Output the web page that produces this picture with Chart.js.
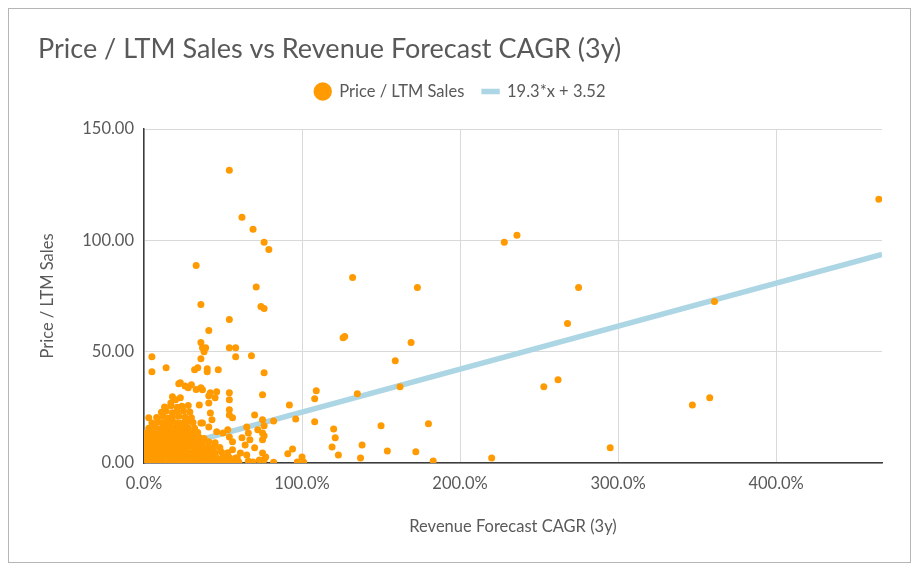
<!DOCTYPE html>
<html><head><meta charset="utf-8">
<script src="https://cdn.jsdelivr.net/npm/chart.js@4.4.0/dist/chart.umd.min.js"></script>
<style>html,body{margin:0;padding:0;background:#fff;}</style>
</head><body>
<canvas id="c" width="919" height="571"></canvas>
<script>
// ---- DATA (x = revenue forecast CAGR as fraction, y = Price / LTM Sales) ----
// Dense core of the cloud
const cagrCore = [
 0.00,0.03,0.06,0.09,0.12,0.15,0.18,0.21,0.24,0.27,0.30,0.33,0.36,0.39,0.42,0.45,0.48,0.52,0.56,0.60,
 0.01,0.04,0.07,0.10,0.13,0.16,0.19,0.22,0.25,0.28,0.31,0.34,0.37,0.40,0.43,0.46,0.50,0.54,0.58,
 0.00,0.03,0.06,0.09,0.12,0.15,0.18,0.21,0.24,0.27,0.30,0.33,0.36,0.39,0.42,0.45,0.49,0.53,
 0.02,0.05,0.08,0.11,0.14,0.17,0.20,0.23,0.26,0.29,0.32,0.35,0.38,0.41,0.44,0.48,
 0.01,0.04,0.07,0.10,0.13,0.16,0.19,0.22,0.25,0.28,0.31,0.34,0.37,0.41,0.45,
 0.02,0.05,0.08,0.11,0.14,0.17,0.20,0.23,0.26,0.29,0.32,0.35,0.38,
 0.01,0.04,0.07,0.10,0.13,0.16,0.19,0.22,0.25,0.28,0.31,0.34,
 0.03,0.07,0.10,0.13,0.16,0.19,0.22,0.25,0.28,0.32,
 0.05,0.09,0.12,0.15,0.18,0.21,0.24,0.27,0.31,0.36,
 0.08,0.12,0.15,0.18,0.22,0.26,0.30,
 0.11,0.14,0.18,0.21,0.25,0.29,
 0.13,0.17,0.21,0.24,0.28
];
const psCore = [
 0.4,0.6,0.3,0.8,0.5,0.2,0.7,0.4,0.9,0.3,0.6,0.5,0.2,0.8,0.4,0.6,0.3,0.7,0.5,0.4,
 2.4,2.9,2.2,2.7,3.0,2.5,2.3,2.8,2.6,3.1,2.2,2.7,2.4,2.9,2.6,2.3,2.8,2.5,2.2,
 4.6,5.1,4.4,4.9,5.2,4.7,4.5,5.0,4.8,5.3,4.6,4.9,4.4,5.1,4.7,4.5,4.9,4.6,
 6.8,7.3,6.6,7.1,7.4,6.9,6.7,7.2,7.0,7.5,6.8,7.1,6.6,7.3,6.9,7.0,
 9.0,9.5,8.8,9.3,9.6,9.1,8.9,9.4,9.2,9.7,9.0,9.3,8.8,9.5,9.1,
 11.2,11.7,11.0,11.5,11.8,11.3,11.1,11.6,11.4,11.9,11.2,11.5,11.0,
 13.4,13.9,13.2,13.7,14.0,13.5,13.3,13.8,13.6,14.1,13.4,13.7,
 15.6,16.1,15.4,15.9,16.2,15.7,15.5,16.0,15.8,15.6,
 18.0,18.5,17.8,18.3,18.6,18.1,17.9,18.4,18.2,18.0,
 20.4,20.9,20.2,20.7,21.0,20.5,20.3,
 22.8,23.3,22.6,23.1,23.4,22.9,
 25.2,25.7,25.0,25.5,25.8
];
// Loose points around the core
const cagrNear = [0.28,0.23,0.30,0.36,0.42,0.45,0.18,0.23,0.20,0.17,0.03,0.22,0.26,0.33,0.41,0.41,0.35,0.37,0.41,0.46,0.50,0.53,0.54];
const psNear   = [33.8,36.0,35.1,33.8,31.5,29.3,29.7,29.3,28.4,27.0,20.3,35.6,34.6,33.0,30.2,27.0,26.1,18.0,16.2,14.0,13.5,14.9,11.7];
const cagrMid = [0.37,0.46,0.54,0.54,0.75,0.42,0.43,0.54,0.54,0.56,0.70,0.75,0.65,0.66,0.72,0.75,0.75,0.67,0.77,0.75,0.65,0.69,0.56,0.56,0.61,0.59,0.64,0.62,0.70,0.73,0.66,0.76,0.76,0.76];
const psMid   = [32.9,32.0,31.5,28.4,30.6,22.5,19.4,23.9,21.6,20.3,21.6,19.4,16.2,13.5,14.9,13.5,10.4,10.4,2.7,4.5,3.6,0.5,9.5,5.9,4.5,2.3,8.1,11.3,6.8,1.4,0.9,16.7,12.2,1.4];
const cagrRight = [0.82,0.96,0.92,0.94,0.91,1.00,1.01,0.97,0.82,1.09,1.08,1.35,1.62,1.08,1.50,1.80,1.20,1.21,1.19,1.38,1.23,1.37,1.54,1.72,1.83];
const psRight   = [18.9,19.8,26.1,6.3,4.1,2.7,0.5,0.5,0.3,32.4,28.8,31.1,34.2,18.5,16.7,17.6,15.3,11.3,7.2,8.1,3.6,2.3,5.4,5.0,0.9];
const cagrHigh = [0.71,0.74,0.76,0.36,0.54,0.41,0.36,0.37,0.39,0.38,0.36,0.54,0.58,0.58,0.68,0.05,0.05,0.14,0.32,0.34,0.40,0.40,0.47,0.76];
const psHigh   = [79.0,70.3,69.4,71.2,64.4,59.5,54.1,51.8,51.8,50.0,46.8,51.8,51.8,47.7,48.2,47.7,41.0,42.8,41.9,42.8,42.3,41.0,41.9,40.5];
const cagrOutliers = [0.54,0.62,0.69,0.76,0.79,0.33,1.32,1.73,2.28,2.36,2.75,2.68,1.26,1.27,1.69,1.59,2.62,2.53,4.65,3.61,3.47,3.58,2.95,2.20];
const psOutliers   = [131.5,110.4,105.0,99.1,95.9,88.7,83.3,78.8,99.1,102.3,78.8,62.6,56.3,56.8,54.1,45.9,37.4,34.2,118.5,72.5,26.1,29.3,6.8,2.3];

// Linear trendline (as fitted in the source)
const trendSlope = 19.3;
const trendIntercept = 3.52;
const xAxisMax = 4.67;

const xTicks = [0, 1, 2, 3, 4];
const yTicks = [0, 50, 100, 150];

const seriesName = 'Price / LTM Sales';
const chartTitle = 'Price / LTM Sales vs Revenue Forecast CAGR (3y)';
const xTitle = 'Revenue Forecast CAGR (3y)';
const yTitle = 'Price / LTM Sales';

// ---- BUILD ----
const allX = [].concat(cagrCore, cagrNear, cagrMid, cagrRight, cagrHigh, cagrOutliers);
const allY = [].concat(psCore, psNear, psMid, psRight, psHigh, psOutliers);
const scatterPts = allX.map((x, i) => ({x: x, y: allY[i]}));
const trendPts = [0, xAxisMax].map(x => ({x: x, y: trendSlope * x + trendIntercept}));

const TXT = '#595959';
const FONT = 'Lato, "Open Sans", sans-serif';
const FS = 16.5;
const ORANGE = '#ff9a00';
const BLUE = '#add6e5';

const framePlugin = {
  id: 'frame',
  beforeDraw(chart) {
    const c = chart.ctx;
    c.save();
    c.fillStyle = '#ffffff';
    c.fillRect(0, 0, chart.width, chart.height);
    c.strokeStyle = '#b5b5b5';
    c.lineWidth = 1;
    c.strokeRect(8.5, 8.5, 902, 554);
    c.restore();
  }
};

new Chart(document.getElementById('c'), {
  type: 'scatter',
  data: {
    datasets: [
      {
        label: seriesName,
        data: scatterPts,
        xAxisID: 'x', yAxisID: 'y',
        backgroundColor: ORANGE,
        borderColor: ORANGE,
        borderWidth: 0,
        pointRadius: 3.5,
        pointHoverRadius: 3.5,
        pointStyle: 'circle',
        order: 0
      },
      {
        type: 'line',
        label: trendSlope + '*x + ' + trendIntercept,
        data: trendPts,
        xAxisID: 'x', yAxisID: 'y',
        borderColor: BLUE,
        backgroundColor: BLUE,
        borderWidth: 5.5,
        pointRadius: 0,
        pointStyle: 'line',
        fill: false,
        tension: 0,
        order: 1
      }
    ]
  },
  options: {
    responsive: false,
    animation: false,
    devicePixelRatio: 1,
    layout: { padding: { left: 38, right: 37, top: 8, bottom: 8 } },
    plugins: {
      title: {
        display: true,
        text: chartTitle,
        align: 'start',
        color: TXT,
        font: { family: FONT, size: 27, weight: 'normal' },
        padding: { top: 24.8, bottom: 0 }
      },
      legend: {
        display: true,
        labels: {
          usePointStyle: true,
          boxHeight: 13,
          color: TXT,
          font: { family: FONT, size: FS },
          padding: 18
        }
      },
      tooltip: { enabled: false }
    },
    scales: {
      x: {
        type: 'linear',
        position: 'bottom',
        min: 0,
        max: xAxisMax,
        afterFit(s) { s.height = 100; },
        afterBuildTicks(s) { s.ticks = xTicks.map(v => ({ value: v })); },
        ticks: {
          callback: v => (v * 100).toFixed(1) + '%',
          color: TXT,
          font: { family: FONT, size: FS },
          padding: 11,
          maxRotation: 0
        },
        grid: { color: '#d9d9d9', drawTicks: false },
        border: { color: '#3c3c3c', width: 1.5 },
        title: {
          display: true,
          text: xTitle,
          color: TXT,
          font: { family: FONT, size: FS },
          padding: { top: 0, bottom: 26.1 }
        }
      },
      y: {
        type: 'linear',
        position: 'left',
        min: 0,
        max: 150,
        afterFit(s) { s.width = 106; },
        afterBuildTicks(s) { s.ticks = yTicks.map(v => ({ value: v })); },
        ticks: {
          callback: v => v.toFixed(2),
          color: TXT,
          font: { family: FONT, size: FS },
          padding: 10
        },
        grid: { color: '#d9d9d9', drawTicks: false },
        border: { color: '#3c3c3c', width: 1.5 },
        title: {
          display: true,
          text: yTitle,
          color: TXT,
          font: { family: FONT, size: FS },
          padding: { top: 0, bottom: 0 }
        }
      },
      gap: {
        type: 'linear',
        position: 'top',
        display: true,
        grid: { display: false },
        border: { display: false },
        ticks: { display: false },
        afterFit(s) { s.height = 19.3; }
      }
    }
  },
  plugins: [framePlugin]
});
</script>
</body></html>
